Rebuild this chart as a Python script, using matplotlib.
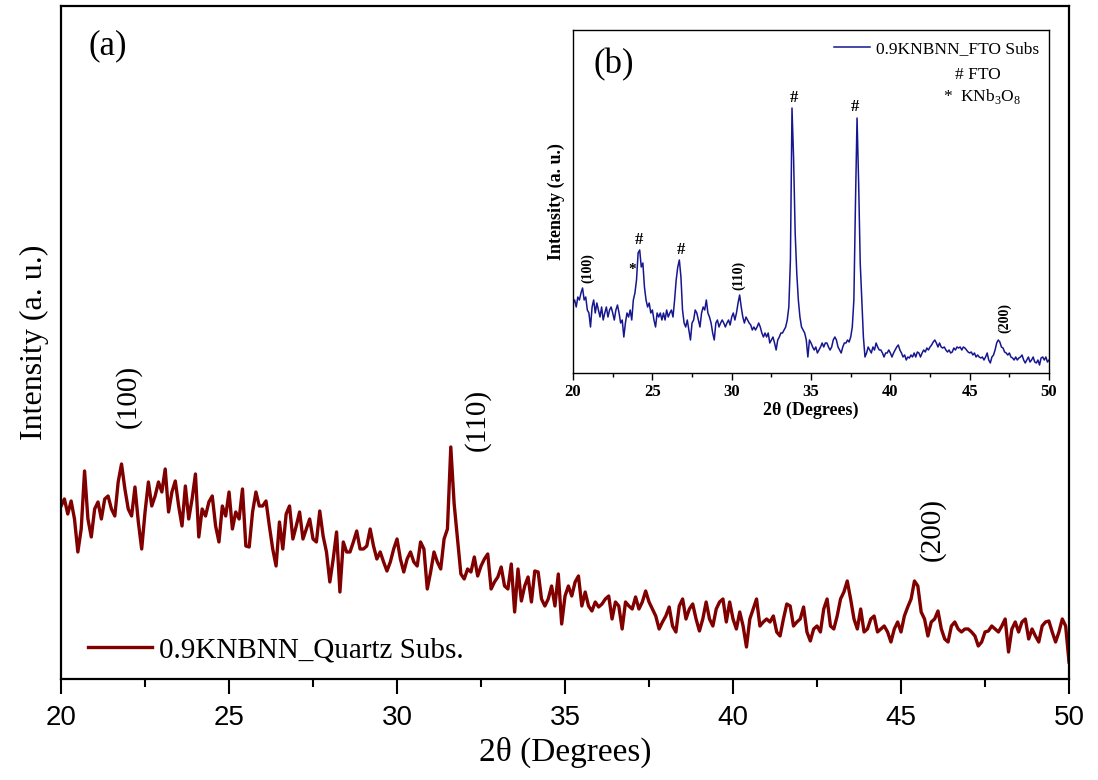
import numpy as np
import matplotlib.pyplot as plt
from matplotlib.ticker import MultipleLocator

plt.rcParams['font.family'] = ['Liberation Serif', 'DejaVu Serif']
plt.rcParams['mathtext.fontset'] = 'custom'
plt.rcParams['mathtext.rm'] = 'Liberation Serif'
plt.rcParams['mathtext.bf'] = 'Liberation Serif:bold'

# 2theta grid, 0.1 deg steps, 20..50
two_theta = np.round(np.arange(200, 501) * 0.1, 1)

# quartz substrate film, intensity in a.u.
quartz = [
    173, 180, 165, 178, 160, 127, 150, 208, 160, 142,
    170, 177, 160, 180, 183, 170, 163, 197, 215, 190,
    170, 163, 192, 157, 130, 167, 197, 173, 183, 197,
    187, 210, 167, 187, 198, 173, 153, 193, 160, 180,
    205, 142, 170, 163, 177, 183, 153, 137, 173, 163,
    187, 150, 167, 160, 190, 133, 132, 167, 187, 173,
    173, 178, 153, 130, 113, 157, 130, 165, 173, 140,
    153, 167, 140, 150, 160, 140, 137, 168, 143, 127,
    97, 120, 147, 87, 137, 127, 127, 137, 148, 130,
    130, 133, 150, 133, 120, 127, 117, 108, 117, 130,
    140, 120, 107, 120, 127, 117, 113, 137, 130, 90,
    107, 127, 117, 110, 140, 150, 232, 175, 140, 105,
    100, 110, 107, 122, 103, 113, 120, 125, 90, 97,
    102, 112, 93, 90, 115, 67, 110, 78, 93, 102,
    77, 108, 107, 80, 73, 80, 93, 73, 105, 55,
    83, 93, 83, 97, 103, 73, 87, 73, 68, 77,
    72, 75, 80, 83, 60, 77, 73, 50, 77, 73,
    70, 82, 70, 77, 88, 77, 70, 63, 50, 57,
    63, 72, 53, 47, 73, 80, 60, 70, 75, 60,
    48, 60, 77, 60, 53, 70, 77, 80, 57, 77,
    60, 50, 67, 53, 32, 60, 70, 80, 53, 57,
    60, 57, 63, 47, 43, 60, 75, 73, 53, 57,
    60, 72, 47, 38, 50, 53, 47, 70, 80, 53,
    50, 63, 80, 87, 98, 80, 60, 50, 70, 47,
    50, 60, 63, 47, 50, 53, 47, 37, 50, 57,
    47, 63, 72, 80, 98, 93, 67, 60, 43, 57,
    60, 68, 50, 40, 37, 53, 57, 50, 47, 50,
    50, 47, 43, 33, 37, 47, 48, 53, 50, 47,
    53, 60, 27, 50, 57, 47, 57, 60, 40, 50,
    43, 37, 53, 57, 58, 47, 37, 47, 60, 53,
    17,
]

# FTO substrate film (inset)
fto = [
    70, 73, 66, 76, 73, 80, 85, 73, 76, 63,
    60, 46, 66, 73, 60, 70, 63, 56, 66, 53,
    60, 66, 56, 63, 66, 60, 53, 63, 68, 60,
    50, 53, 36, 50, 60, 56, 63, 53, 73, 80,
    93, 120, 123, 106, 110, 86, 73, 66, 70, 60,
    63, 53, 46, 60, 56, 60, 53, 60, 53, 63,
    56, 60, 63, 56, 73, 93, 106, 113, 96, 63,
    50, 46, 53, 43, 33, 50, 53, 63, 60, 53,
    46, 60, 66, 63, 73, 60, 56, 50, 40, 33,
    50, 53, 46, 50, 53, 50, 46, 50, 53, 48,
    56, 60, 53, 60, 70, 78, 66, 56, 50, 56,
    53, 50, 48, 43, 46, 43, 46, 50, 46, 40,
    36, 40, 36, 40, 30, 33, 36, 30, 23, 33,
    36, 40, 40, 43, 46, 53, 66, 113, 265, 215,
    140, 100, 73, 56, 46, 43, 40, 33, 16, 33,
    30, 26, 23, 26, 20, 23, 26, 30, 26, 30,
    30, 26, 23, 26, 33, 36, 33, 26, 23, 20,
    26, 30, 30, 33, 31, 36, 46, 73, 170, 255,
    190, 110, 73, 36, 16, 20, 26, 23, 20, 26,
    23, 30, 26, 23, 23, 20, 16, 20, 20, 23,
    20, 16, 20, 23, 26, 28, 23, 20, 16, 18,
    13, 16, 15, 18, 16, 20, 16, 21, 20, 16,
    20, 23, 21, 25, 23, 26, 28, 31, 33, 30,
    26, 30, 26, 25, 26, 23, 21, 23, 20, 21,
    25, 23, 26, 25, 26, 23, 26, 25, 23, 21,
    20, 21, 18, 20, 16, 18, 16, 15, 16, 13,
    16, 20, 13, 10, 16, 18, 23, 30, 33, 31,
    26, 25, 21, 20, 18, 20, 16, 15, 13, 16,
    13, 15, 16, 18, 13, 10, 13, 16, 11, 13,
    16, 11, 10, 13, 8, 15, 16, 13, 16, 11,
    13,
]

main_color = '#800000'
inset_color = '#161690'

fig = plt.figure(figsize=(10.98, 7.80), dpi=100)
ax = fig.add_axes([0.0556, 0.1295, 0.918, 0.8628])
ax.plot(two_theta, quartz, color=main_color, lw=2.4, label='0.9KNBNN_Quartz Subs.')
ax.set_xlim(20, 50)
ax.set_ylim(0, 673)
ax.set_yticks([])
ax.xaxis.set_major_locator(MultipleLocator(5))
ax.xaxis.set_minor_locator(MultipleLocator(2.5))
ax.tick_params(axis='x', which='major', direction='out', length=11, width=1.5,
               labelsize=20, pad=8)
ax.tick_params(axis='x', which='minor', direction='out', length=6, width=1.5)
for lab in ax.get_xticklabels():
    lab.set_family('Liberation Sans')
for sp in ax.spines.values():
    sp.set_linewidth(1.6)
ax.set_xlabel('2θ (Degrees)', fontsize=24, labelpad=4)
ax.set_ylabel('Intensity (a. u.)', fontsize=23, labelpad=9)

ax.text(21.4, 633, '(a)', fontsize=25, ha='center', va='center')
ax.text(22.0, 283, '(100)', fontsize=21, rotation=90, ha='center', va='center')
ax.text(32.38, 259, '(110)', fontsize=21, rotation=90, ha='center', va='center')
ax.text(45.92, 149, '(200)', fontsize=21, rotation=90, ha='center', va='center')

ax.legend(loc='center left', bbox_to_anchor=(0.012, 0.043), frameon=False,
          fontsize=21, handlelength=2.2, handletextpad=0.25, borderpad=0)

# inset (b)
ins = fig.add_axes([0.5219, 0.5218, 0.4335, 0.4397])
ins.plot(two_theta, fto, color=inset_color, lw=1.1, label='0.9KNBNN_FTO Subs')
ins.set_xlim(20, 50)
ins.set_ylim(0, 343)
ins.set_yticks([])
ins.xaxis.set_major_locator(MultipleLocator(5))
ins.xaxis.set_minor_locator(MultipleLocator(2.5))
ins.tick_params(axis='x', which='major', direction='out', length=5, width=1,
                labelsize=12, pad=3)
ins.tick_params(axis='x', which='minor', direction='out', length=3, width=1)
for lab in ins.get_xticklabels():
    lab.set_fontweight('bold')
for sp in ins.spines.values():
    sp.set_linewidth(1)
ins.set_xlabel('2θ (Degrees)', fontsize=13, fontweight='bold', labelpad=1)
ins.set_ylabel('Intensity (a. u.)', fontsize=13, fontweight='bold', labelpad=6)

ins.legend(loc='center left', bbox_to_anchor=(0.53, 0.945), frameon=False,
           fontsize=12.5, handlelength=2.1, handletextpad=0.3, borderpad=0)
ins.text(0.8025, 0.869, '# FTO', transform=ins.transAxes, fontsize=12.5,
         ha='left', va='center')
ins.text(0.777, 0.805, '*  KNb$_3$O$_8$', transform=ins.transAxes, fontsize=12.5,
         ha='left', va='center')
ins.text(22.58, 308, '(b)', fontsize=25, ha='center', va='center')

for xx, yy in [(24.16, 133), (26.8, 123), (33.95, 275), (37.77, 266)]:
    ins.text(xx, yy, '#', fontsize=12, fontweight='bold', ha='center', va='center')
ins.text(23.72, 104, '*', fontsize=11, fontweight='bold', ha='center', va='center')
ins.text(20.95, 105, '(100)', fontsize=10, fontweight='bold', rotation=90,
         ha='center', va='center')
ins.text(30.46, 98, '(110)', fontsize=10, fontweight='bold', rotation=90,
         ha='center', va='center')
ins.text(47.22, 55, '(200)', fontsize=10, fontweight='bold', rotation=90,
         ha='center', va='center')

fig.savefig('out.png', dpi=100)
